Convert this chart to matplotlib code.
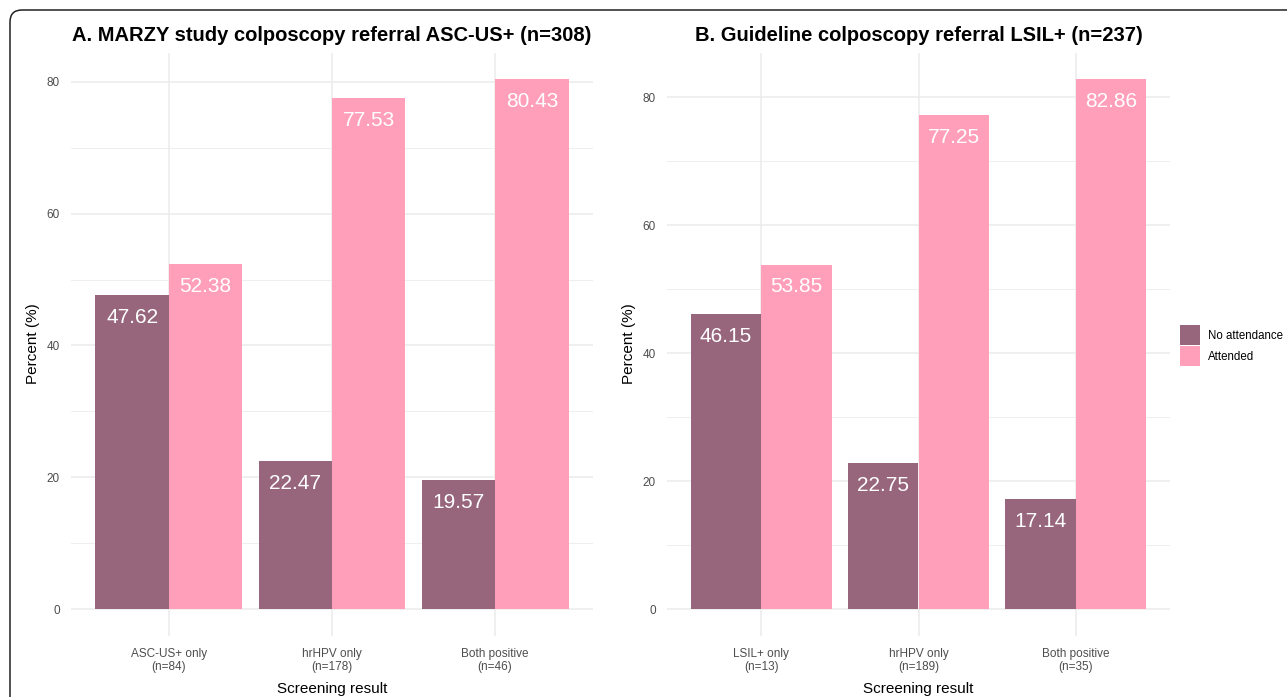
import numpy as np
import matplotlib
matplotlib.use("Agg")
import matplotlib.pyplot as plt
from matplotlib.patches import Patch, FancyBboxPatch

plt.rcParams['font.family'] = ['Liberation Sans', 'DejaVu Sans']

# ----- data -----
cats_a = ["ASC-US+ only\n(n=84)", "hrHPV only\n(n=178)", "Both positive\n(n=46)"]
no_att_a = [47.62, 22.47, 19.57]
att_a = [52.38, 77.53, 80.43]

cats_b = ["LSIL+ only\n(n=13)", "hrHPV only\n(n=189)", "Both positive\n(n=35)"]
no_att_b = [46.15, 22.75, 17.14]
att_b = [53.85, 77.25, 82.86]

titles = ["A. MARZY study colposcopy referral ASC-US+ (n=308)",
          "B. Guideline colposcopy referral LSIL+ (n=237)"]
legend_labels = ["No attendance", "Attended"]

C_NO = "#97667D"
C_ATT = "#FF9FBA"
GRID = "#EBEBEB"
TXT = "#4D4D4D"

fig = plt.figure(figsize=(12.87, 6.97), dpi=100)
W, H = 1287, 697

def px_axes(x0, x1, ytop, ybot):
    return fig.add_axes([x0 / W, 1 - ybot / H, (x1 - x0) / W, (ybot - ytop) / H])

ax_a = px_axes(71, 593, 52.5, 635.5)
ax_b = px_axes(667, 1170, 52.5, 635.5)


def draw_panel(ax, cats, no_att, att, title):
    x = np.arange(1, len(cats) + 1)
    w = 0.45
    ymax = max(max(no_att), max(att))
    ax.set_xlim(0.4, len(cats) + 0.6)
    ax.set_ylim(-0.05 * ymax, 1.05 * ymax)

    # ggplot-style grid
    for yv in np.arange(10, ymax, 20):
        ax.axhline(yv, color=GRID, lw=0.6, zorder=0)
    for yv in np.arange(0, ymax, 20):
        ax.axhline(yv, color=GRID, lw=1.1, zorder=0)
    for xv in x:
        ax.axvline(xv, color=GRID, lw=1.1, zorder=0)

    ax.bar(x - w / 2, no_att, width=w, color=C_NO, zorder=2)
    ax.bar(x + w / 2, att, width=w, color=C_ATT, zorder=2)

    for xs, vals in ((x - w / 2, no_att), (x + w / 2, att)):
        for xi, v in zip(xs, vals):
            ax.annotate(f"{v:.2f}", (xi, v), xytext=(0, -16), textcoords="offset points",
                        ha="center", va="center", color="white", fontsize=15, zorder=3)

    ax.set_xticks(x)
    ax.set_xticklabels(cats, fontsize=8.5, color=TXT, linespacing=1.15)
    ax.set_yticks(np.arange(0, ymax, 20))
    ax.tick_params(axis="both", length=0, labelcolor=TXT)
    ax.tick_params(axis="y", pad=8, labelsize=8.5)
    ax.tick_params(axis="x", pad=9)
    for s in ax.spines.values():
        s.set_visible(False)
    ax.set_xlabel("Screening result", fontsize=11, labelpad=6)
    ax.set_ylabel("Percent (%)", fontsize=11, labelpad=5)
    ax.set_title(title, fontsize=14.5, fontweight="bold", pad=8)


draw_panel(ax_a, cats_a, no_att_a, att_a, titles[0])
draw_panel(ax_b, cats_b, no_att_b, att_b, titles[1])

handles = [Patch(facecolor=C_NO, edgecolor="none"), Patch(facecolor=C_ATT, edgecolor="none")]
fig.legend(handles, legend_labels, loc="upper left", bbox_to_anchor=(1180 / W, 1 - 325 / H),
           frameon=False, fontsize=8.3, handlelength=1.75, handleheight=2.3,
           labelspacing=0.1, handletextpad=0.7, borderpad=0, borderaxespad=0)

# outer frame with rounded corner
frame = FancyBboxPatch((10, -40), 1400, 697 - 10 + 40, boxstyle="round,pad=0,rounding_size=12",
                       transform=None, fill=False, edgecolor="#222222", lw=1.1)
fig.patches.append(frame)

fig.savefig("out.png", dpi=100)
